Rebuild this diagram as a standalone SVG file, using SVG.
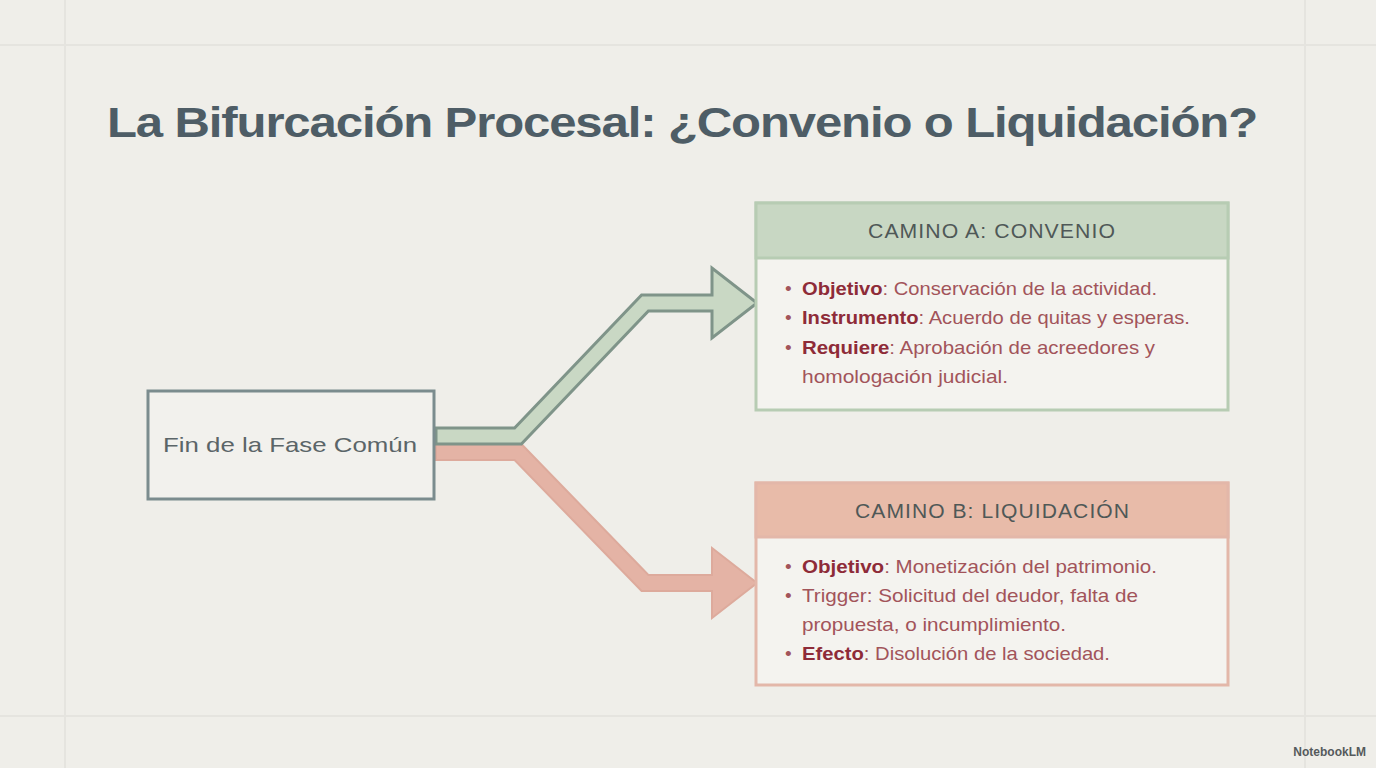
<svg xmlns="http://www.w3.org/2000/svg" width="1376" height="768" viewBox="0 0 1376 768">
<style>
.title{font-family:"Liberation Sans",Arial,sans-serif;font-weight:bold;font-size:43px;fill:#4e5d66;letter-spacing:-1px}
.node-text{font-family:"Liberation Sans",Arial,sans-serif;font-size:21px;fill:#5b6568}
.hdr{font-family:"Liberation Sans",Arial,sans-serif;font-size:20px;fill:#4f5857;letter-spacing:1px}
.body{font-family:"Liberation Sans",Arial,sans-serif;font-size:19px;fill:#a2545a}
.lbl{font-weight:bold;fill:#8e2b38}
.grid{stroke:#e5e4df;stroke-width:2;fill:none}
</style>
<rect width="1376" height="768" fill="#efeee9"/>
<g id="grid">
<line class="grid" x1="65" y1="0" x2="65" y2="768"/>
<line class="grid" x1="1305" y1="0" x2="1305" y2="768"/>
<line class="grid" x1="0" y1="45" x2="1376" y2="45"/>
<line class="grid" x1="0" y1="716" x2="1376" y2="716"/>
</g>
<text class="title" x="107" y="137" textLength="1150" lengthAdjust="spacingAndGlyphs">La Bifurcación Procesal: ¿Convenio o Liquidación?</text>

<g id="connectors">
<polygon points="436,444 521.4,444 648.4,575 712,575 712,548 757,583 712,618 712,591 641.6,591 514.6,460 436,460" fill="#e4b3a5" stroke="#ddaa9c" stroke-width="2" stroke-linejoin="miter"/>
<polygon points="436,428 514.6,428 641.6,295 712,295 712,268 757,303 712,338 712,311 648.4,311 521.4,444 436,444" fill="#c9d8c4" stroke="#7f9489" stroke-width="3" stroke-linejoin="miter"/>
</g>

<g id="start">
<rect x="148" y="391" width="286" height="108" fill="#f2f1ed" stroke="#7b8c8e" stroke-width="3"/>
<text class="node-text" x="163" y="452" textLength="254" lengthAdjust="spacingAndGlyphs">Fin de la Fase Común</text>
</g>

<g id="camino-a">
<rect x="756" y="203" width="472" height="207" fill="#f4f3ef" stroke="#b7ccb3" stroke-width="3"/>
<rect x="756" y="203" width="472" height="55" fill="#c8d7c3" stroke="#b7ccb3" stroke-width="3"/>
<text class="hdr" x="868" y="238" textLength="248" lengthAdjust="spacingAndGlyphs">CAMINO A: CONVENIO</text>
<text class="body" x="785" y="295">•</text>
<text class="body" x="802" y="295" textLength="355" lengthAdjust="spacingAndGlyphs"><tspan class="lbl">Objetivo</tspan>: Conservación de la actividad.</text>
<text class="body" x="785" y="324">•</text>
<text class="body" x="802" y="324" textLength="388" lengthAdjust="spacingAndGlyphs"><tspan class="lbl">Instrumento</tspan>: Acuerdo de quitas y esperas.</text>
<text class="body" x="785" y="354">•</text>
<text class="body" x="802" y="354" textLength="353" lengthAdjust="spacingAndGlyphs"><tspan class="lbl">Requiere</tspan>: Aprobación de acreedores y</text>
<text class="body" x="802" y="383" textLength="206" lengthAdjust="spacingAndGlyphs">homologación judicial.</text>
</g>

<g id="camino-b">
<rect x="756" y="483" width="472" height="202" fill="#f4f3ef" stroke="#e3b7a9" stroke-width="3"/>
<rect x="756" y="483" width="472" height="54" fill="#e8bba9" stroke="#e3b7a9" stroke-width="3"/>
<text class="hdr" x="855" y="518" textLength="275" lengthAdjust="spacingAndGlyphs">CAMINO B: LIQUIDACIÓN</text>
<text class="body" x="785" y="573">•</text>
<text class="body" x="802" y="573" textLength="355" lengthAdjust="spacingAndGlyphs"><tspan class="lbl">Objetivo</tspan>: Monetización del patrimonio.</text>
<text class="body" x="785" y="602">•</text>
<text class="body" x="802" y="602" textLength="336" lengthAdjust="spacingAndGlyphs">Trigger: Solicitud del deudor, falta de</text>
<text class="body" x="802" y="631" textLength="264" lengthAdjust="spacingAndGlyphs">propuesta, o incumplimiento.</text>
<text class="body" x="785" y="660">•</text>
<text class="body" x="802" y="660" textLength="308" lengthAdjust="spacingAndGlyphs"><tspan class="lbl">Efecto</tspan>: Disolución de la sociedad.</text>
</g>

<g id="watermark">
<text x="1366" y="756" text-anchor="end" font-family="Liberation Sans,Arial,sans-serif" font-size="12" font-weight="bold" fill="#555a5c">NotebookLM</text>
</g>
</svg>
